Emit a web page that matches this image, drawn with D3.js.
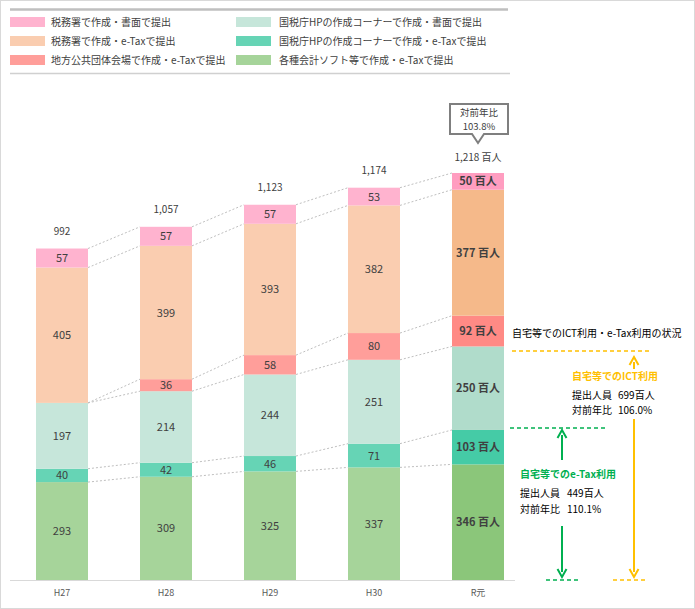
<!DOCTYPE html>
<html><head><meta charset="utf-8">
<script src="https://cdn.jsdelivr.net/npm/d3@7"></script>
<style>body{margin:0;background:#fff}svg{display:block;font-family:"Noto Sans CJK JP","Noto Sans",sans-serif}</style>
</head><body><svg id="c" width="695" height="609"></svg>
<script>
const years = ["H27","H28","H29","H30","R元"];
const seriesNames = ["各種会計ソフト等で作成・e-Taxで提出","国税庁HPの作成コーナーで作成・e-Taxで提出","国税庁HPの作成コーナーで作成・書面で提出","地方公共団体会場で作成・e-Taxで提出","税務署で作成・e-Taxで提出","税務署で作成・書面で提出"];
const softEtax = [293,309,325,337,346];
const hpEtax = [40,42,46,71,103];
const hpPaper = [197,214,244,251,250];
const localEtax = [0,36,58,80,92];
const taxOfficeEtax = [405,399,393,382,377];
const taxOfficePaper = [57,57,57,53,50];
const totals = [992,1057,1123,1174,1218];
const colors = ["#A6D49A","#66D4B5","#C6E6DA","#FF9E9A","#FACDB0","#FFB3CF"];
const colorsLast = ["#8BC67A","#45CBA6","#B0DCCB","#FF8A85","#F5B98A","#FF9DC0"];
const yoy = "103.8%";
const ictStats = {title:"自宅等でのICT利用", people:"699百人", ratio:"106.0%"};
const etaxStats = {title:"自宅等でのe-Tax利用", people:"449百人", ratio:"110.1%"};

const series = [softEtax,hpEtax,hpPaper,localEtax,taxOfficeEtax,taxOfficePaper];
const svg = d3.select("#c");
svg.append("rect").attr("x",0.5).attr("y",0.5).attr("width",694).attr("height",608).attr("fill","#fff").attr("stroke","#d9d9d9");

// legend
svg.append("line").attr("x1",10).attr("x2",508).attr("y1",9.5).attr("y2",9.5).attr("stroke","#BFBFBF").attr("stroke-width",2.5);
svg.append("line").attr("x1",10).attr("x2",510).attr("y1",73.5).attr("y2",73.5).attr("stroke","#D0D0D0").attr("stroke-width",1.5);
const legendOrder = [5,2,4,1,3,0];
legendOrder.forEach((s,i)=>{
  const col = i%2, row = Math.floor(i/2);
  const lx = col===0?10:236, tx = col===0?51:279, ly = 17+row*19;
  svg.append("rect").attr("x",lx).attr("y",ly).attr("width",35).attr("height",10).attr("fill",colors[s]);
  svg.append("text").attr("x",tx).attr("y",ly+9).attr("font-size",10).attr("fill","#404040").text(seriesNames[s]);
});

const x = d3.scaleBand().domain(years).range([10,530]).paddingInner(0.5).paddingOuter(0.25);
const y = d3.scaleLinear().domain([0,1218]).range([580,173]);
const bw = x.bandwidth();

const data = years.map((yr,i)=>{const o={year:yr}; series.forEach((s,j)=>o["s"+j]=s[i]); return o;});
const stack = d3.stack().keys(series.map((_,j)=>"s"+j))(data);

// connectors
const gc = svg.append("g");
stack.forEach(layer=>{
  for(let i=0;i<years.length-1;i++){
    gc.append("line").attr("x1",x(years[i])+bw).attr("x2",x(years[i+1]))
      .attr("y1",y(layer[i][1])).attr("y2",y(layer[i+1][1]))
      .attr("stroke","#BFBFBF").attr("stroke-width",1).attr("stroke-dasharray","2,2");
  }
});

stack.forEach((layer,j)=>{
  layer.forEach((d,i)=>{
    const v = d[1]-d[0];
    if(v<=0) return;
    const last = i===years.length-1;
    svg.append("rect").attr("x",x(years[i])).attr("width",bw)
      .attr("y",y(d[1])).attr("height",y(d[0])-y(d[1]))
      .attr("fill",last?colorsLast[j]:colors[j]);
    svg.append("text").attr("x",x(years[i])+bw/2).attr("y",(y(d[0])+y(d[1]))/2+4)
      .attr("text-anchor","middle").attr("font-size",11)
      .attr("font-weight",last?"bold":"normal").attr("fill","#404040")
      .text(last? v+" 百人" : v);
  });
});

// totals
totals.forEach((t,i)=>{
  const last = i===years.length-1;
  svg.append("text").attr("x",x(years[i])+bw/2).attr("y",y(t)-(last?12:14))
    .attr("text-anchor","middle").attr("font-size",10).attr("fill","#404040")
    .text(d3.format(",")(t)+(last?" 百人":""));
});

// x axis
svg.append("line").attr("x1",10).attr("x2",515).attr("y1",580.5).attr("y2",580.5).attr("stroke","#D9D9D9");
years.forEach(yr=>{
  svg.append("text").attr("x",x(yr)+bw/2).attr("y",596).attr("text-anchor","middle")
    .attr("font-size",9).attr("fill","#595959").text(yr);
});

// callout
const cx = x(years[4])+bw/2;
svg.append("path").attr("d",`M${cx-28},104 H${cx+30} V134 H${cx+6} L${cx},143 L${cx-6},134 H${cx-28} Z`)
  .attr("fill","#fff").attr("stroke","#7F7F7F").attr("stroke-width",2);
svg.append("text").attr("x",cx+1).attr("y",116).attr("text-anchor","middle").attr("font-size",9.5).attr("fill","#404040").text("対前年比");
svg.append("text").attr("x",cx+1).attr("y",130).attr("text-anchor","middle").attr("font-size",9.5).attr("fill","#404040").text(yoy);

// right annotations
const orange="#FFC000", green="#00B050";
svg.append("text").attr("x",512).attr("y",337).attr("font-size",10).attr("fill","#000").text("自宅等でのICT利用・e-Tax利用の状況");
const ictY = y(699)+4.5, etaxY = y(449)-2;
svg.append("line").attr("x1",512).attr("x2",652).attr("y1",ictY).attr("y2",ictY).attr("stroke",orange).attr("stroke-width",1.5).attr("stroke-dasharray","4,3");
svg.append("line").attr("x1",510).attr("x2",607).attr("y1",etaxY).attr("y2",etaxY).attr("stroke",green).attr("stroke-width",1.5).attr("stroke-dasharray","4,3");
svg.append("line").attr("x1",613).attr("x2",648).attr("y1",580).attr("y2",580).attr("stroke",orange).attr("stroke-width",1.5).attr("stroke-dasharray","4,3");
svg.append("line").attr("x1",546).attr("x2",580).attr("y1",580).attr("y2",580).attr("stroke",green).attr("stroke-width",1.5).attr("stroke-dasharray","4,3");

function arrow(ax,y1,y2,col){ // y2 = tip
  const dir = y2<y1?1:-1;
  svg.append("line").attr("x1",ax).attr("x2",ax).attr("y1",y1).attr("y2",y2+dir*5).attr("stroke",col).attr("stroke-width",2);
  svg.append("path").attr("d",`M${ax-4.5},${y2+dir*8} L${ax},${y2} L${ax+4.5},${y2+dir*8}`)
    .attr("fill","none").attr("stroke",col).attr("stroke-width",2);
}
arrow(634,369,ictY+6,orange);
arrow(634,419,577,orange);
arrow(562,460,etaxY+2,green);
arrow(562,526,577,green);

svg.append("text").attr("x",572).attr("y",380).attr("font-size",10).attr("font-weight","bold").attr("fill",orange).text(ictStats.title);
svg.append("text").attr("x",572).attr("y",399).attr("font-size",10).attr("fill","#000").text("提出人員");
svg.append("text").attr("x",618).attr("y",399).attr("font-size",10).attr("fill","#000").text(ictStats.people);
svg.append("text").attr("x",572).attr("y",414).attr("font-size",10).attr("fill","#000").text("対前年比");
svg.append("text").attr("x",618).attr("y",414).attr("font-size",10).attr("fill","#000").text(ictStats.ratio);

svg.append("text").attr("x",520).attr("y",478).attr("font-size",10).attr("font-weight","bold").attr("fill",green).text(etaxStats.title);
svg.append("text").attr("x",520).attr("y",497).attr("font-size",10).attr("fill","#000").text("提出人員");
svg.append("text").attr("x",567).attr("y",497).attr("font-size",10).attr("fill","#000").text(etaxStats.people);
svg.append("text").attr("x",520).attr("y",513).attr("font-size",10).attr("fill","#000").text("対前年比");
svg.append("text").attr("x",567).attr("y",513).attr("font-size",10).attr("fill","#000").text(etaxStats.ratio);
</script></body></html>
